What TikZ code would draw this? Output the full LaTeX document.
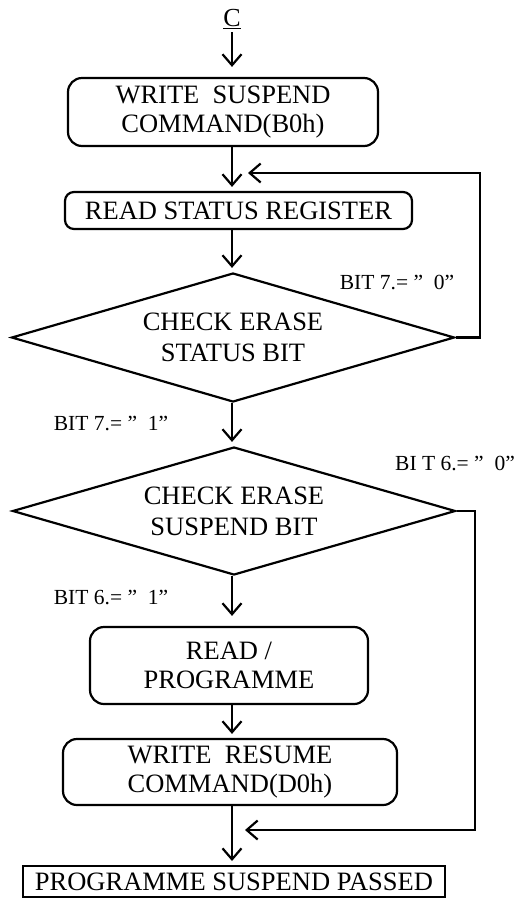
\documentclass[tikz,border=0pt]{standalone}
\usepackage{fontspec}
\setmainfont{Liberation Serif}
\usetikzlibrary{shapes.geometric,arrows.meta}

\tikzset{
  flow/.style={-{Straight Barb[length=11pt,width=19pt]},line width=2.2pt,shorten >=4pt},
  rbox/.style={draw,line width=2.2pt,rounded corners=14pt,align=center,inner sep=0pt,
    font=\fontsize{26.5}{29}\selectfont},
  dec/.style={draw,diamond,aspect=3.43,line width=2.2pt,align=center,inner sep=0pt,
    minimum width=443pt,minimum height=129pt,font=\fontsize{26.5}{31}\selectfont},
  lbl/.style={font=\fontsize{21.5}{24}\selectfont},
}

\begin{document}
\begin{tikzpicture}[x=1pt,y=-1pt]
  \useasboundingbox (0,0) rectangle (520,898);

  \node[font=\fontsize{26}{29}\selectfont] (C) at (232,19) {\underline{C}};
  \node[rbox,minimum width=310pt,minimum height=68pt] (1) at (223,112)
    {WRITE\ \ SUSPEND\\COMMAND(B0h)};
  \node[rbox,rounded corners=9pt,minimum width=347pt,minimum height=37pt] (2) at (238.5,210.5)
    {READ STATUS REGISTER};
  \node[dec] (3) at (233,337.5) {CHECK ERASE\\STATUS BIT};
  \node[dec,minimum height=128pt] (4) at (234,511) {CHECK ERASE\\SUSPEND BIT};
  \node[rbox,minimum width=278pt,minimum height=77pt] (5) at (229,665.5)
    {READ /\\PROGRAMME};
  \node[rbox,minimum width=334pt,minimum height=66pt] (6) at (230,772)
    {WRITE\ \ RESUME\\COMMAND(D0h)};
  \node[draw,line width=2pt,minimum width=422pt,minimum height=31pt,inner sep=0pt,
    font=\fontsize{26.5}{29}\selectfont] (7) at (234,881.5) {PROGRAMME SUSPEND PASSED};

  \node[lbl] (b70) at (397,282) {BIT 7.=\ ”\ \ 0”};
  \node[lbl] (b71) at (111,423) {BIT 7.=\ ”\ \ 1”};
  \node[lbl] (b60) at (455,463) {BI T 6.=\ ”\ \ 0”};
  \node[lbl] (b61) at (111,597) {BIT 6.=\ ”\ \ 1”};

  \coordinate (j1) at (248,173);
  \coordinate (j2) at (245,830);

  \draw[flow,shorten >=10pt] (C) -- (C |- 1.north);
  \draw[flow] (1.south -| C) -- (2.north -| C);
  \draw[flow] (2.south -| C) -- (3.north -| C);
  \draw[flow] (3.south -| C) -- (4.north -| C);
  \draw[flow,shorten >=10pt] (4.south -| C) -- (5.north -| C);
  \draw[flow] (5.south -| C) -- (6.north -| C);
  \draw[flow] (6.south -| C) -- (7.north -| C);

  \draw[flow,shorten >=0pt] (3.east) -- ++(24,0) |- (j1);
  \draw[flow,shorten >=0pt] (4.east) -- ++(18,0) |- (j2);
\end{tikzpicture}
\end{document}
